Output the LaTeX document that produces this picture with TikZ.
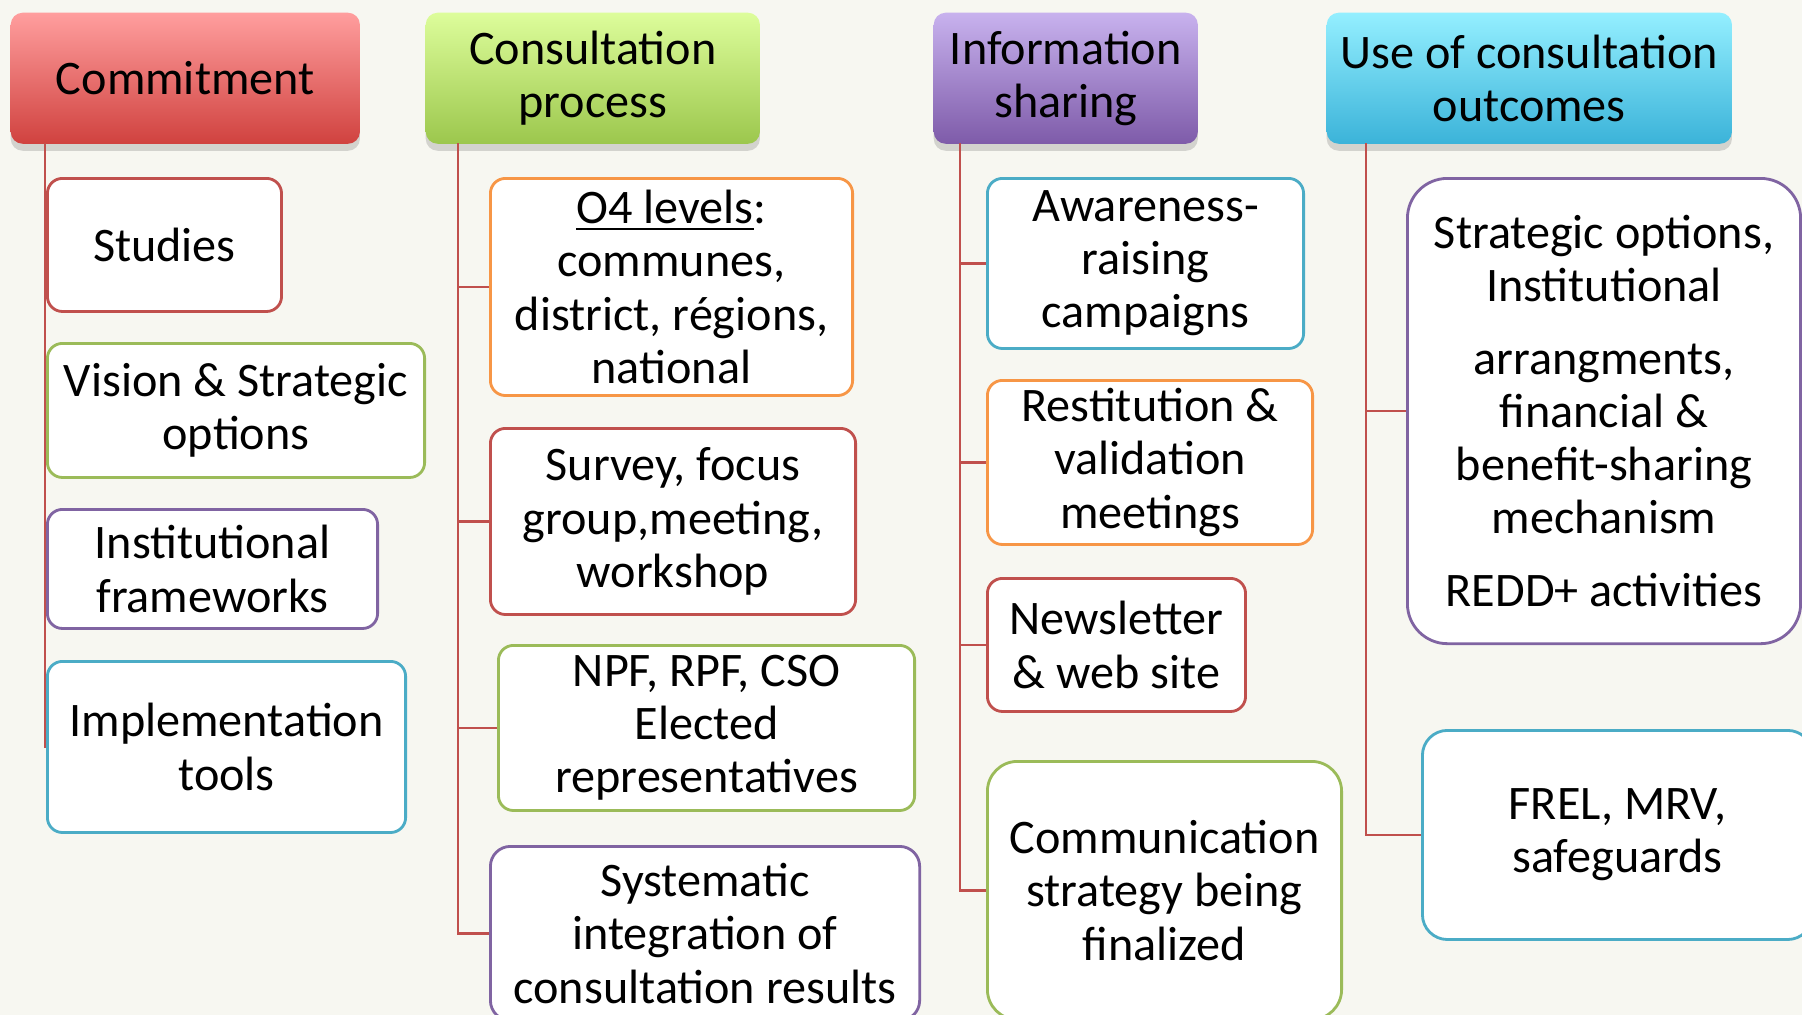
\documentclass[tikz,border=0pt]{standalone}
\usepackage{fontspec}
\setmainfont{Carlito}
\usetikzlibrary{shadows}
\definecolor{bgc}{HTML}{F7F7F1}
\definecolor{ored}{HTML}{C0504D}
\definecolor{ogreen}{HTML}{9BBB59}
\definecolor{opurple}{HTML}{8064A2}
\definecolor{oblue}{HTML}{4BACC6}
\definecolor{oorange}{HTML}{F79646}
\definecolor{cmtop}{HTML}{FF9E9E}
\definecolor{cmbot}{HTML}{D0423F}
\definecolor{cstop}{HTML}{DDFD9B}
\definecolor{csbot}{HTML}{9CC74D}
\definecolor{intop}{HTML}{C8B2EE}
\definecolor{inbot}{HTML}{7E5BA9}
\definecolor{ustop}{HTML}{94EFFF}
\definecolor{usbot}{HTML}{3BB3D9}
\newcommand{\boxfont}{\fontsize{13.7}{15.1}\selectfont}

\begin{document}
\begin{tikzpicture}[x=0.01cm,y=-0.01cm,
    link/.style={ored,line width=0.6pt},
    head/.style 2 args={rectangle,anchor=north west,align=center,inner sep=0pt,
      rounded corners=0.12cm,top color=#1,bottom color=#2,font=\boxfont,
      drop shadow={shadow xshift=0pt,shadow yshift=-0.07cm,opacity=0.3}},
    leaf/.style={rectangle,anchor=north west,align=center,inner sep=0pt,
      rounded corners=0.15cm,fill=white,draw=#1,line width=0.8pt,font=\boxfont}]
    \useasboundingbox (0,0) rectangle (1802,1015);
    \fill[bgc] (0,0) rectangle (1802,1015);
    \clip (0,0) rectangle (1802,1015);

    % headers
    \node[head={cmtop}{cmbot},minimum width=3.49cm,minimum height=1.31cm] (comm) at (10,12) {Commitment};
    \node[head={cstop}{csbot},minimum width=3.34cm,minimum height=1.31cm] (cons) at (425,12) {Consultation\\process};
    \node[head={intop}{inbot},minimum width=2.64cm,minimum height=1.31cm] (info) at (933,12) {Information\\sharing};
    \node[head={ustop}{usbot},minimum width=4.05cm,minimum height=1.31cm] (use) at (1326,12) {Use of consultation\\outcomes};

    % commitment
    \node[leaf=ored,minimum width=2.34cm,minimum height=1.33cm] (stud) at (46,177) {Studies};
    \node[leaf=ogreen,minimum width=3.77cm,minimum height=1.34cm] (vis) at (46,342) {Vision \& Strategic\\options};
    \node[leaf=opurple,minimum width=3.30cm,minimum height=1.19cm] (inst) at (46,508) {Institutional\\frameworks};
    \node[leaf=oblue,minimum width=3.58cm,minimum height=1.71cm] (impl) at (46,660) {Implementation\\tools};

    % consultation process
    \node[leaf=oorange,minimum width=3.62cm,minimum height=2.17cm] (lev) at (489,177) {\underline{O4 levels}:\\communes,\\district, régions,\\national};
    \node[leaf=ored,minimum width=3.65cm,minimum height=1.86cm] (surv) at (489,427) {Survey, focus\\group,meeting,\\workshop};
    \node[leaf=ogreen,minimum width=4.16cm,minimum height=1.65cm] (npf) at (497,644) {NPF, RPF, CSO\\Elected\\representatives};
    \node[leaf=opurple,minimum width=4.29cm,minimum height=1.74cm,rounded corners=0.2cm] (syst) at (489,845) {Systematic\\integration of\\consultation results};

    % information sharing
    \node[leaf=oblue,minimum width=3.16cm,minimum height=1.70cm] (awar) at (986,177) {Awareness-\\raising\\campaigns};
    \node[leaf=oorange,minimum width=3.25cm,minimum height=1.64cm] (rest) at (986,379) {Restitution \&\\validation\\meetings};
    \node[leaf=ored,minimum width=2.58cm,minimum height=1.33cm] (news) at (986,577) {Newsletter\\\& web site};
    \node[leaf=ogreen,minimum width=3.54cm,minimum height=2.58cm,rounded corners=0.3cm] (comu) at (986,760) {Communication\\strategy being\\finalized};

    % use of outcomes
    \node[leaf=opurple,minimum width=3.93cm,minimum height=4.65cm,rounded corners=0.4cm] (strat) at (1406,177) {Strategic options,\\Institutional\\[0.2cm]arrangments,\\financial \&\\benefit-sharing\\mechanism\\[0.2cm]REDD+ activities};
    \node[leaf=oblue,minimum width=3.90cm,minimum height=2.09cm,rounded corners=0.25cm] (frel) at (1421,729) {FREL, MRV,\\safeguards};

    \coordinate (commtop) at (45,143);
    \coordinate (constop) at (458,143);
    \coordinate (infotop) at (960,143);
    \coordinate (usetop) at (1366,143);

    \foreach \n in {stud,vis,inst,impl}
        \draw[link] (commtop) |- (\n.west);
    \foreach \n in {lev,surv,npf,syst}
        \draw[link] (constop) |- (\n.west);
    \foreach \n in {awar,rest,news,comu}
        \draw[link] (infotop) |- (\n.west);
    \foreach \n in {strat,frel}
        \draw[link] (usetop) |- (\n.west);
\end{tikzpicture}
\end{document}
